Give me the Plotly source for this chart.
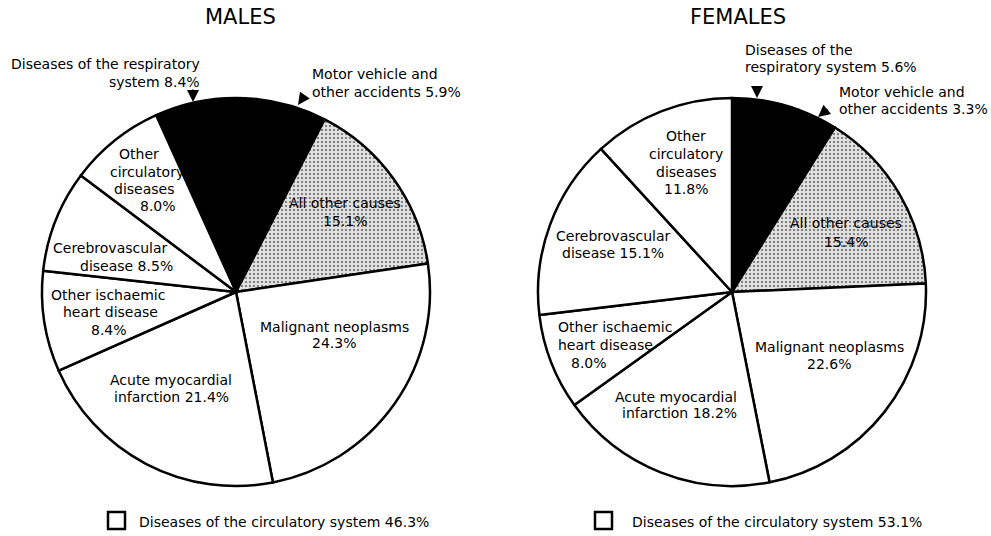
import plotly.graph_objects as go

# ---- data -------------------------------------------------------------
causes = [
    "Diseases of the respiratory system",
    "Motor vehicle and other accidents",
    "All other causes",
    "Malignant neoplasms",
    "Acute myocardial infarction",
    "Other ischaemic heart disease",
    "Cerebrovascular disease",
    "Other circulatory diseases",
]
males = [8.4, 5.9, 15.1, 24.3, 21.4, 8.4, 8.5, 8.0]
females = [5.6, 3.3, 15.4, 22.6, 18.2, 8.0, 15.1, 11.8]
circulatory = [
    "Acute myocardial infarction",
    "Other ischaemic heart disease",
    "Cerebrovascular disease",
    "Other circulatory diseases",
]
panel_titles = ["MALES", "FEMALES"]

# ---- styling ----------------------------------------------------------
W, H = 991, 536
FONT = "DejaVu Sans"
FS = 14
slice_colors = ["#000000", "#000000", "#dedede", "#ffffff",
                "#ffffff", "#ffffff", "#ffffff", "#ffffff"]
slice_patterns = ["", "", ".", "", "", "", "", ""]


def px(x):
    return x / W


def py(y):
    return 1 - y / H


def pct(v):
    return f"{v:.1f}%"


def pie(values, x0, x1, rotation):
    return go.Pie(
        labels=causes,
        values=values,
        sort=False,
        direction="clockwise",
        rotation=rotation,
        textinfo="none",
        hoverinfo="label+value",
        marker=dict(
            colors=slice_colors,
            line=dict(color="#000000", width=2.5),
            pattern=dict(shape=slice_patterns, fgcolor="#6a6a6a",
                         bgcolor="#e0e0e0", size=4, solidity=0.22),
        ),
        domain=dict(x=[px(x0), px(x1)], y=[py(486), py(98)]),
        showlegend=False,
    )


fig = go.Figure()
fig.add_trace(pie(males, 42, 430, -24.3))
fig.add_trace(pie(females, 538, 926, 0))

annotations = []


def text(s, x, y, anchor="center", size=FS):
    annotations.append(dict(
        text=s, x=px(x), y=py(y), xref="paper", yref="paper",
        xanchor=anchor, yanchor="middle", showarrow=False,
        font=dict(family=FONT, size=size, color="#000000"),
    ))


def arrow(tip_x, tip_y, dx, dy):
    annotations.append(dict(
        text="", x=px(tip_x), y=py(tip_y), xref="paper", yref="paper",
        ax=dx, ay=dy, showarrow=True, arrowhead=2, arrowsize=1.6,
        arrowwidth=1.5, arrowcolor="#000000",
    ))


m = dict(zip(causes, males))
f = dict(zip(causes, females))

# panel titles
text(panel_titles[0], 240, 17, size=21)
text(panel_titles[1], 738, 17, size=21)

# males: slice labels
text("Diseases of the respiratory", 202, 64, "right")
text("system " + pct(m[causes[0]]), 202, 82, "right")
arrow(193, 102, 0, -14)
text("Motor vehicle and", 310, 74, "left")
text("other accidents " + pct(m[causes[1]]), 310, 92, "left")
arrow(298, 105, 7, -10)
text("Other", 139, 154)
text("circulatory", 147, 172)
text("diseases", 144, 189)
text(pct(m[causes[7]]), 158, 206)
text("Cerebrovascular", 110, 248)
text("disease " + pct(m[causes[6]]), 126, 266)
text("Other ischaemic", 108, 295)
text("heart disease", 110, 312)
text(pct(m[causes[5]]), 109, 330)
text("Acute myocardial", 171, 380)
text("infarction " + pct(m[causes[4]]), 171, 397)
text("Malignant neoplasms", 334, 327)
text(pct(m[causes[3]]), 334, 343)
text("All other causes", 345, 203)
text(pct(m[causes[2]]), 345, 221)

# females: slice labels
text("Diseases of the", 743, 50, "left")
text("respiratory system " + pct(f[causes[0]]), 743, 67, "left")
arrow(757, 98, 0, -13)
text("Motor vehicle and", 837, 92, "left")
text("other accidents " + pct(f[causes[1]]), 837, 109, "left")
arrow(818, 117, 11, -9)
text("Other", 686, 136)
text("circulatory", 686, 154)
text("diseases", 686, 172)
text(pct(f[causes[7]]), 686, 189)
text("Cerebrovascular", 613, 236)
text("disease " + pct(f[causes[6]]), 613, 253)
text("Other ischaemic", 556, 327, "left")
text("heart disease", 556, 345, "left")
text(pct(f[causes[5]]), 589, 363)
text("Acute myocardial", 676, 397)
text("infarction " + pct(f[causes[4]]), 679, 413)
text("Malignant neoplasms", 829, 347)
text(pct(f[causes[3]]), 829, 364)
text("All other causes", 846, 223)
text(pct(f[causes[2]]), 846, 242)

# circulatory-system key under each pie
m_circ = round(sum(m[c] for c in circulatory), 1)
f_circ = round(sum(f[c] for c in circulatory), 1)
text("Diseases of the circulatory system " + pct(m_circ), 137, 522, "left")
text("Diseases of the circulatory system " + pct(f_circ), 630, 522, "left")

shapes = []
for x0 in (108, 595):
    shapes.append(dict(
        type="rect", xref="paper", yref="paper",
        x0=px(x0), x1=px(x0 + 17), y0=py(529), y1=py(512),
        line=dict(color="#000000", width=2.5), fillcolor="#ffffff",
    ))

fig.update_layout(
    width=W, height=H,
    margin=dict(l=0, r=0, t=0, b=0),
    paper_bgcolor="#ffffff",
    plot_bgcolor="#ffffff",
    font=dict(family=FONT, size=FS, color="#000000"),
    annotations=annotations,
    shapes=shapes,
    showlegend=False,
)

fig.write_html("out.html")
